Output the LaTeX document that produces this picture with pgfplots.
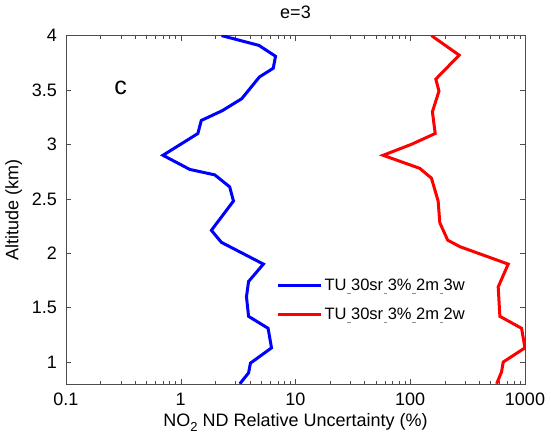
\documentclass[border=0pt]{standalone}
\usepackage{fontspec}
\setmainfont{Liberation Sans}
\usepackage{pgfplots}
\pgfplotsset{compat=1.18}
\usetikzlibrary{calc}
\newcommand\ff{\fontsize{18bp}{21bp}\selectfont}
\newcommand\lf{\fontsize{16.5bp}{19bp}\selectfont}
% MATLAB-style underscore: a gap with a faint dash below
\newcommand\us{\hbox to 0.278em{\hss\textcolor{black!45}{\rule[-3.5bp]{3.5bp}{0.8bp}}\hss}}
\begin{document}
\begin{tikzpicture}
\begin{axis}[
    name=ax, scale only axis, width=459bp, height=348.2bp,
    xmode=log, xmin=0.1, xmax=1000, ymin=0.8, ymax=4,
    xtick={0.1,1,10,100,1000}, xticklabels={0.1,1,10,100,1000},
    minor xtick={0.2,0.3,0.4,0.5,0.6,0.7,0.8,0.9,2,3,4,5,6,7,8,9,20,30,40,50,60,70,80,90,200,300,400,500,600,700,800,900},
    ytick={1,1.5,2,2.5,3,3.5,4},
    tick align=inside, xtick pos=both, ytick pos=both,
    major tick length=5bp, minor tick length=3bp,
    axis line style={black!70}, every tick/.style={black!70},
    /pgf/number format/assume math mode=true,
    tick label style={font=\ff},
    xticklabel style={anchor=base, yshift=-22.2bp},
    yticklabel style={anchor=east, inner sep=0pt, xshift=-9bp},
    xlabel={NO\raisebox{-5bp}{\fontsize{13bp}{15bp}\selectfont 2} ND Relative Uncertainty (\%)},
    xlabel style={font=\ff, at={(axis description cs:0.5,-0.1232)}, anchor=base},
    ylabel={Altitude (km)},
    ylabel style={font=\ff, at={(axis description cs:-0.1035,0.5)}, anchor=base},
    legend style={font=\lf, draw=none, fill=none, at={(axis description cs:0.4517,0.3135)}, anchor=north west, row sep=12bp, cells={anchor=west}},
    legend image code/.code={\draw[#1] (0bp,0bp) -- (43bp,0bp);},
]
\addplot[blue, line width=3bp] coordinates {
  (2.27,4.00) (4.8,3.91) (6.7,3.81) (6.4,3.70) (4.85,3.62) (3.4,3.42) (2.3,3.31)
  (1.51,3.22) (1.41,3.10) (0.70,2.90) (1.20,2.77) (1.98,2.72) (2.67,2.61) (2.88,2.48)
  (1.85,2.21) (2.26,2.10) (5.25,1.90) (3.9,1.74) (3.74,1.60) (3.9,1.42) (5.77,1.31)
  (6.18,1.13) (4.05,0.99) (3.9,0.90) (3.27,0.80)};
\addlegendentry{TU\us30sr\us3\%\us2m\us3w}
\addplot[red, line width=3bp] coordinates {
  (153,4.00) (267,3.82) (167,3.60) (178,3.49) (156,3.30) (165,3.10) (102,3.00)
  (58,2.90) (121,2.78) (153,2.69) (175,2.48) (181,2.28) (212,2.12) (271,2.06)
  (714,1.90) (584,1.69) (604,1.42) (934,1.31) (998,1.13) (646,1.00) (625,0.91) (566,0.80)};
\addlegendentry{TU\us30sr\us3\%\us2m\us2w}
\node[font=\fontsize{25bp}{29bp}\selectfont] at (axis cs:0.3,3.52) {c};
\end{axis}
\node[font=\ff, anchor=base] at ($(ax.north)+(0,16.6bp)$) {e=3};
\pgfresetboundingbox
\path[use as bounding box] ($(ax.south west)+(-66bp,-57.2bp)$) rectangle ($(ax.north east)+(26bp,35.6bp)$);
\end{tikzpicture}
\end{document}
